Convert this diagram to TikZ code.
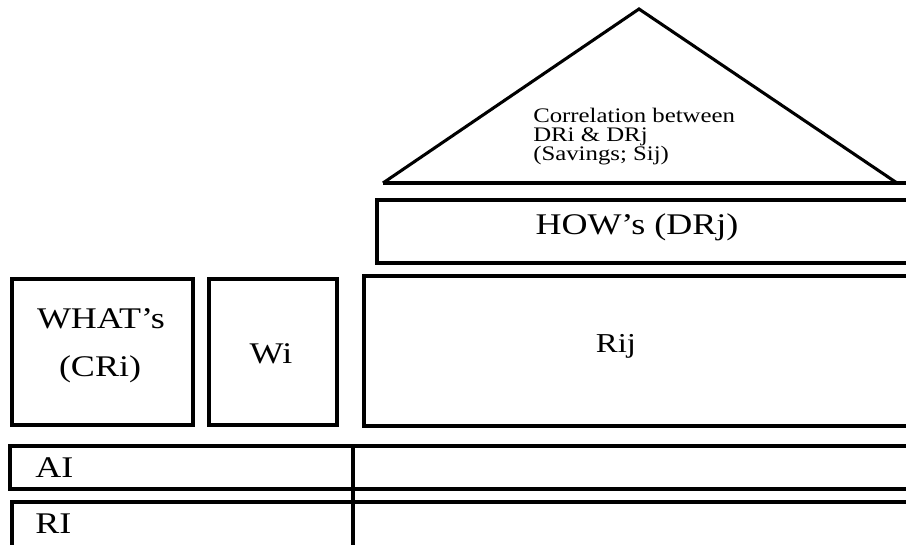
\documentclass[tikz,border=0pt]{standalone}
\usepackage{fontspec}
\setmainfont{Liberation Serif}[FakeStretch=1.2]
\begin{document}
\begin{tikzpicture}[x=0.75pt,y=-0.75pt,
  box/.style={draw=black, line width=2.3pt},
  big/.style={font=\fontsize{22.5}{26}\selectfont, inner sep=0pt},
  mid/.style={font=\fontsize{20.5}{24}\selectfont, inner sep=0pt},
  small/.style={font=\fontsize{15.5}{18}\selectfont, inner sep=0pt, anchor=base west}]
\useasboundingbox (0,0) rectangle (906,545);
\clip (0,0) rectangle (906,545);
% roof
\coordinate (apex) at (639,9);
\coordinate (bl) at (383,183);
\coordinate (br) at (897,183);
\coordinate (be) at (915,183);
\draw[box, line join=miter] (bl) -- (apex) -- (br);
\draw[box] (bl) -- (be);
\node[small] (c1) at (533,123) {Correlation between};
\node[small] (c2) at (533,142) {DRi \& DRj};
\node[small] (c3) at (533,161) {(Savings; Sij)};
% HOW box
\draw[box] (915,200) -- (377,200) -- (377,263) -- (915,263);
\node[big, anchor=base] (how) at (637,235) {HOW’s (DRj)};
% WHAT box
\draw[box] (12,279) rectangle (193,425);
\node[big, anchor=base] (what) at (101,328) {WHAT’s};
\node[big, anchor=base] (cri) at (100,376) {(CRi)};
% Wi box
\draw[box] (209,279) rectangle (337,425);
\node[big, anchor=base] (wi) at (271,363) {Wi};
% Rij box
\draw[box] (915,276) -- (364,276) -- (364,426) -- (915,426);
\node[mid, anchor=base] (rij) at (616,352) {Rij};
% AI row
\draw[box] (915,446) -- (10,446) -- (10,489) -- (915,489);
% RI row
\draw[box] (915,502) -- (12,502) -- (12,550);
\draw[box] (353,446) -- (353,550);
\node[big, anchor=base west] (ai) at (35,477) {AI};
\node[big, anchor=base west] (ri) at (35,533) {RI};
\end{tikzpicture}
\end{document}
